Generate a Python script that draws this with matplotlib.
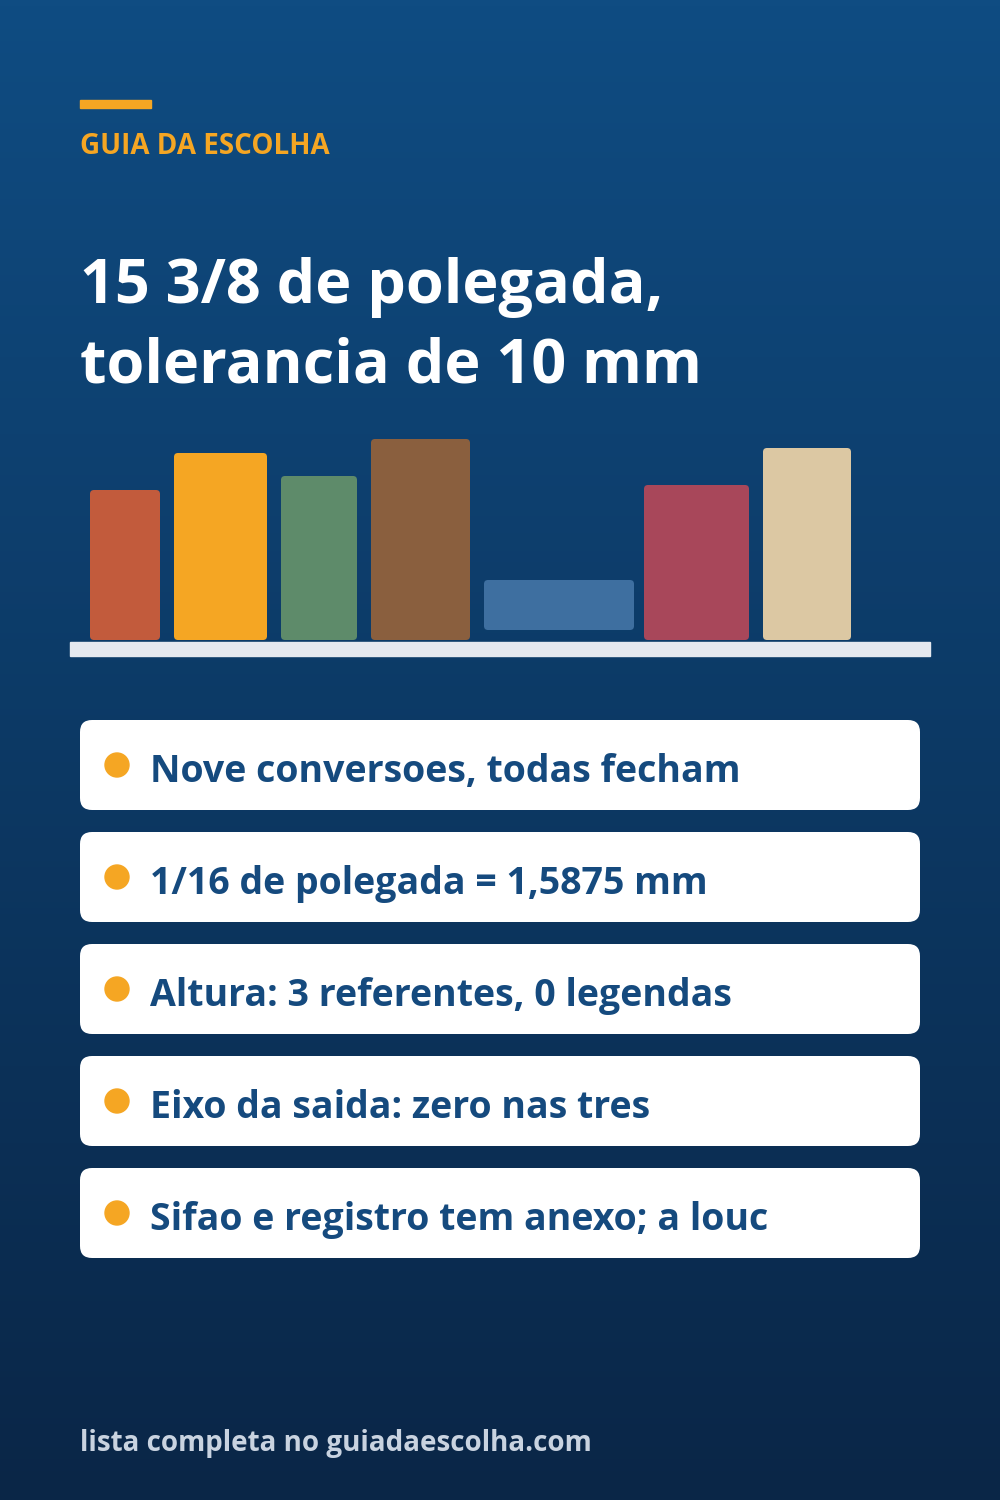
import numpy as np
import matplotlib
matplotlib.use("Agg")
import matplotlib.pyplot as plt
from matplotlib.patches import FancyBboxPatch, Circle, Rectangle

kicker = "GUIA DA ESCOLHA"
title_lines = ["15 3/8 de polegada,", "tolerancia de 10 mm"]
items = ["Nove conversoes, todas fecham",
         "1/16 de polegada = 1,5875 mm",
         "Altura: 3 referentes, 0 legendas",
         "Eixo da saida: zero nas tres",
         "Sifao e registro tem anexo; a louc"]
footer = "lista completa no guiadaescolha.com"

# book-shelf bars (pixel-scale units)
bar_left = [90, 174, 281, 371, 484, 644, 763]
bar_width = [70, 93, 76, 99, 150, 105, 88]
bar_height = [150, 187, 164, 201, 50, 155, 192]
bar_bottom = [640, 640, 640, 640, 630, 640, 640]
bar_colors = ["#c25b3c", "#f5a623", "#5e8b6a", "#8a5f3e", "#3e6fa0", "#a8475a", "#dcc8a3"]

fig = plt.figure(figsize=(10, 15), dpi=100)
ax = fig.add_axes([0, 0, 1, 1])
ax.set_xlim(0, 1000); ax.set_ylim(1500, 0); ax.axis("off")

grad = np.linspace(0, 1, 256)[:, None]
c1 = np.array([0x0f, 0x4c, 0x82]) / 255
c2 = np.array([0x0a, 0x26, 0x47]) / 255
img = c1 + (c2 - c1) * grad[..., None]
ax.imshow(img, extent=[0, 1000, 1500, 0], aspect="auto", zorder=0)

FONT = "Open Sans"
ax.add_patch(Rectangle((80, 100), 71, 8, color="#f5a623", zorder=2))
ax.text(80, 147, kicker, color="#f5a623", fontsize=20, fontweight="bold",
        family=FONT, va="center", ha="left")
for i, ln in enumerate(title_lines):
    ax.text(80, 287 + i * 80, ln, color="white", fontsize=44, fontweight="bold",
            family=FONT, va="center", ha="left")

for l, w, h, b, c in zip(bar_left, bar_width, bar_height, bar_bottom, bar_colors):
    ax.add_patch(FancyBboxPatch((l, b - h), w, h, boxstyle="round,pad=0,rounding_size=4",
                                fc=c, ec="none", zorder=3))
ax.add_patch(Rectangle((70, 642), 860, 14, color="#e6e9ef", zorder=3))

for i, t in enumerate(items):
    y0 = 720 + i * 112
    ax.add_patch(FancyBboxPatch((80, y0), 840, 90, boxstyle="round,pad=0,rounding_size=12",
                                fc="white", ec="none", zorder=3))
    ax.add_patch(Circle((117, y0 + 45), 12, color="#f5a623", zorder=4))
    ax.text(150, y0 + 52, t, color="#154a7e", fontsize=27, fontweight="bold",
            family=FONT, va="center", ha="left", zorder=5)

ax.text(80, 1443, footer, color="#c9d3e0", fontsize=20, fontweight="bold",
        family=FONT, va="center", ha="left")

fig.savefig("out.png", dpi=100)
